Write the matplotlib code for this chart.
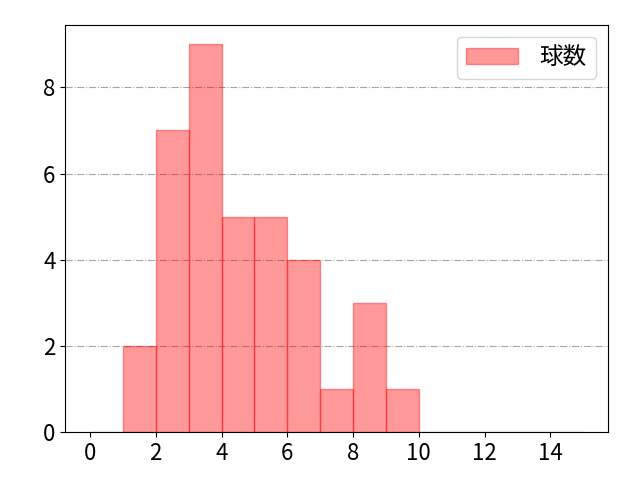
import numpy as np
import matplotlib
matplotlib.use("Agg")
import matplotlib.pyplot as plt

plt.rcParams['font.family'] = ['Noto Sans CJK JP', 'DejaVu Sans']

# 球数ヒストグラム (ビン幅1, 0-15)
bin_edges = list(range(0, 16))
counts = [0, 2, 7, 9, 5, 5, 4, 1, 3, 1, 0, 0, 0, 0, 0]
label = "球数"

fig, ax = plt.subplots(figsize=(6.4, 4.8), dpi=100)
ax.hist(bin_edges[:-1], bins=bin_edges, weights=counts,
        color="red", alpha=0.4, edgecolor="red", linewidth=1.0, label=label)
ax.set_xticks(range(0, 15, 2))
ax.tick_params(labelsize=16)
ax.grid(axis="y", color="gray", linestyle="-.", linewidth=0.8, alpha=0.7)
ax.set_axisbelow(True)
ax.legend(fontsize=17, loc="upper right", handlelength=2.2, handletextpad=0.9)
fig.subplots_adjust(left=0.102, right=0.95, top=0.948, bottom=0.1)
fig.savefig("out.png")
